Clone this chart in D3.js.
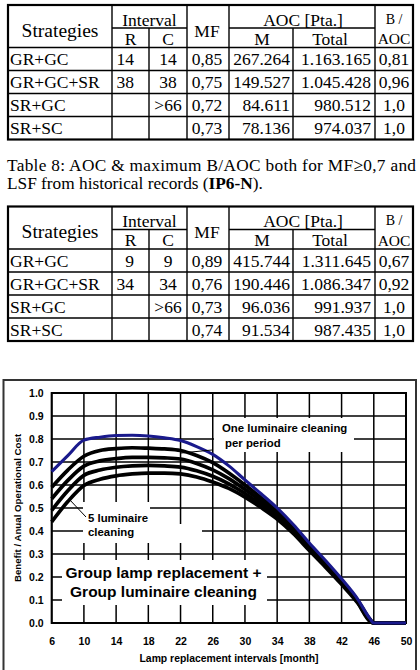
<!DOCTYPE html>
<html>
<head>
<meta charset="utf-8">
<script src="https://cdn.jsdelivr.net/npm/d3@7"></script>
<style>
html,body{margin:0;padding:0;background:#fff;}
svg{display:block;}
.serif{font-family:"Liberation Serif","Times New Roman",serif;fill:#000;}
.sans{font-family:"Liberation Sans",Arial,sans-serif;font-weight:bold;fill:#000;}
</style>
</head>
<body>
<svg id="page" width="420" height="670"></svg>
<script>
// ===== Data =====
const headTop = ["Strategies","Interval","MF","AOC [Pta.]","B /"];
const headSub = ["R","C","M","Total","AOC"];
const table1Rows = [
  ["GR+GC","14","14","0,85","267.264","1.163.165","0,81"],
  ["GR+GC+SR","38","38","0,75","149.527","1.045.428","0,96"],
  ["SR+GC","",">66","0,72","84.611","980.512","1,0"],
  ["SR+SC","","","0,73","78.136","974.037","1,0"]
];
const table2Rows = [
  ["GR+GC","9","9","0,89","415.744","1.311.645","0,67"],
  ["GR+GC+SR","34","34","0,76","190.446","1.086.347","0,92"],
  ["SR+GC","",">66","0,73","96.036","991.937","1,0"],
  ["SR+SC","","","0,74","91.534","987.435","1,0"]
];
const caption1 = "Table 8: AOC & maximum B/AOC both for MF\u22650,7 and";
const caption2 = ["LSF from historical records (","IP6-N",")."];

const months = [6,8,10,12,14,16,18,20,22,24,26,28,30,32,34,36,38,40,42,44,45.5,46,48,50];
const clean1 = [0.658,0.728,0.795,0.808,0.815,0.816,0.813,0.805,0.793,0.767,0.733,0.683,0.622,0.562,0.50,0.428,0.348,0.272,0.192,0.104,0.02,0,0,0];
const clean2 = [0.59,0.665,0.725,0.75,0.758,0.762,0.76,0.757,0.75,0.728,0.697,0.652,0.6,0.545,0.487,0.417,0.339,0.264,0.186,0.099,0.017,0,0,0];
const clean3 = [0.54,0.62,0.682,0.705,0.715,0.72,0.72,0.718,0.713,0.694,0.666,0.628,0.581,0.53,0.475,0.407,0.331,0.257,0.18,0.095,0.014,0,0,0];
const clean4 = [0.49,0.575,0.642,0.665,0.677,0.683,0.685,0.683,0.678,0.662,0.638,0.605,0.563,0.515,0.463,0.398,0.323,0.25,0.174,0.091,0.011,0,0,0];
const clean5 = [0.44,0.528,0.598,0.625,0.64,0.648,0.652,0.652,0.648,0.635,0.613,0.585,0.547,0.502,0.452,0.389,0.315,0.243,0.168,0.087,0.008,0,0,0];
const xTicks = [6,10,14,18,22,26,30,34,38,42,46,50];
const yTicks = [0,0.1,0.2,0.3,0.4,0.5,0.6,0.7,0.8,0.9,1.0];

const svg = d3.select('#page');

// ===== Tables =====
const colX = [8,112,149,187,229,293,375,413];
// per column: anchor + x for data cells
const cellPos = [['start',10],['end',134],['middle',168],['middle',207],['end',290],['end',371],['middle',394]];

function drawTable(top, rows){
  const g = svg.append('g');
  const subY = top + 23, headB = top + 42.5, rowH = 23;
  const bottom = headB + rowH*rows.length;
  const ln = (x1,y1,x2,y2,w) => g.append('line').attr('x1',x1).attr('y1',y1).attr('x2',x2).attr('y2',y2)
      .attr('stroke','#000').attr('stroke-width',w||1.4);
  ln(colX[1],subY,colX[3],subY);
  ln(colX[4],subY,colX[6],subY);
  ln(colX[0],headB,colX[7],headB);
  rows.forEach((r,i)=>{ if(i>0) ln(colX[0],headB+rowH*i,colX[7],headB+rowH*i); });
  [1,3,4,6].forEach(k=>ln(colX[k],top,colX[k],bottom));
  [2,5].forEach(k=>ln(colX[k],subY,colX[k],bottom));
  g.append('rect').attr('x',colX[0]).attr('y',top).attr('width',colX[7]-colX[0]).attr('height',bottom-top)
    .attr('fill','none').attr('stroke','#000').attr('stroke-width',2.2);

  const t = (x,y,s,size,anchor) => g.append('text').attr('class','serif').attr('x',x).attr('y',y)
      .attr('text-anchor',anchor||'middle').style('font-size',size+'px').text(s);
  t(60, top+31.5, headTop[0], 19.5);
  t(149.5, top+20.5, headTop[1], 17.5);
  t(207, top+31.5, headTop[2], 17.5);
  t(303, top+20.5, headTop[3], 17.5);
  t(394, top+18.5, headTop[4], 14);
  t(130.5, top+39.5, headSub[0], 17.5);
  t(168, top+39.5, headSub[1], 17.5);
  t(262, top+39.5, headSub[2], 17.5);
  t(330, top+39.5, headSub[3], 17.5);
  t(394, top+39, headSub[4], 15.5);

  rows.forEach((r,i)=>{
    const y = headB + rowH*i + 17.5;
    r.forEach((v,k)=>{ if(v) t(cellPos[k][1], y, v, 17.5, cellPos[k][0]); });
  });
}
drawTable(5, table1Rows);
drawTable(206.5, table2Rows);

// caption
svg.append('text').attr('class','serif').attr('x',7).attr('y',170.5)
  .attr('textLength',409).attr('lengthAdjust','spacing')
  .style('font-size','17.3px').text(caption1);
const cap2 = svg.append('text').attr('class','serif').attr('x',7).attr('y',189).style('font-size','17.3px');
cap2.append('tspan').text(caption2[0]);
cap2.append('tspan').style('font-weight','bold').text(caption2[1]);
cap2.append('tspan').text(caption2[2]);

// ===== Chart =====
svg.append('rect').attr('x',3.5).attr('y',380).attr('width',412.5).attr('height',300)
  .attr('fill','none').attr('stroke','#333').attr('stroke-width',2);

const x = d3.scaleLinear().domain([6,50]).range([51.7,406]);
const y = d3.scaleLinear().domain([0,1]).range([623,393]);

const gGrid = svg.append('g');
gGrid.selectAll('line.v').data(xTicks).join('line').attr('class','v')
  .attr('x1',d=>x(d)).attr('x2',d=>x(d)).attr('y1',y(0)).attr('y2',y(1))
  .attr('stroke','#000').attr('stroke-width',1.5);
gGrid.selectAll('line.h').data(yTicks).join('line').attr('class','h')
  .attr('x1',x(6)).attr('x2',x(50)).attr('y1',d=>y(d)).attr('y2',d=>y(d))
  .attr('stroke','#000').attr('stroke-width',1.5);
gGrid.append('rect').attr('x',x(6)).attr('y',y(1)).attr('width',x(50)-x(6)).attr('height',y(0)-y(1))
  .attr('fill','none').attr('stroke','#000').attr('stroke-width',2);

// white label boxes that interrupt the grid
const boxes = [[214,418,354,452],[83,502,150,543],[83,524,202,543],[62,560,267,605]];
svg.append('g').selectAll('rect').data(boxes).join('rect')
  .attr('x',d=>d[0]).attr('y',d=>d[1]).attr('width',d=>d[2]-d[0]).attr('height',d=>d[3]-d[1])
  .attr('fill','#fff');

// axes labels
const xAxis = svg.append('g').attr('transform',`translate(0,${y(0)})`)
  .call(d3.axisBottom(x).tickValues(xTicks).tickSize(0).tickPadding(15).tickFormat(d3.format('d')));
const yAxis = svg.append('g').attr('transform',`translate(${x(6)},0)`)
  .call(d3.axisLeft(y).tickValues(yTicks).tickSize(0).tickPadding(8).tickFormat(d3.format('.1f')));
[xAxis,yAxis].forEach(a=>{
  a.select('.domain').remove();
  a.selectAll('text').attr('class','sans').style('font-size','10.5px').style('font-family','"Liberation Sans",Arial,sans-serif').style('font-weight','bold').attr('fill','#000');
});

svg.append('text').attr('class','sans').attr('x',229).attr('y',662).attr('text-anchor','middle')
  .style('font-size','10.4px').text('Lamp replacement intervals [month]');
svg.append('text').attr('class','sans').attr('transform','translate(20.5,508) rotate(-90)').attr('text-anchor','middle')
  .style('font-size','9.7px').text('Benefit / Anual Operational Cost');

// curves
const line = d3.line().x((d,i)=>x(months[i])).y(d=>y(d)).curve(d3.curveMonotoneX);
const gLines = svg.append('g').attr('fill','none').attr('stroke-linejoin','round');
[clean2,clean3,clean4,clean5].forEach(s=>{
  gLines.append('path').attr('d',line(s)).attr('stroke','#000').attr('stroke-width',3.7);
});
gLines.append('path').attr('d',line(clean1)).attr('stroke','#1a1a8c').attr('stroke-width',3.1);

// leaders
svg.append('line').attr('x1',181).attr('y1',453).attr('x2',212).attr('y2',450).attr('stroke','#000').attr('stroke-width',1);
svg.append('line').attr('x1',69).attr('y1',499).attr('x2',86).attr('y2',517).attr('stroke','#000').attr('stroke-width',1);

// annotations
const note = (xx,yy,s,size,anchor) => svg.append('text').attr('class','sans').attr('x',xx).attr('y',yy)
  .attr('text-anchor',anchor||'start').style('font-size',size+'px').text(s);
note(222,432,'One luminaire cleaning',11.4);
note(225,446.5,'per period',11.4);
note(88,522,'5 luminaire',11.4);
note(88,536,'cleaning',11.4);
note(163.5,578,'Group lamp replacement +',15.5,'middle');
note(163.5,597,'Group luminaire cleaning',15.5,'middle');
</script>
</body>
</html>
